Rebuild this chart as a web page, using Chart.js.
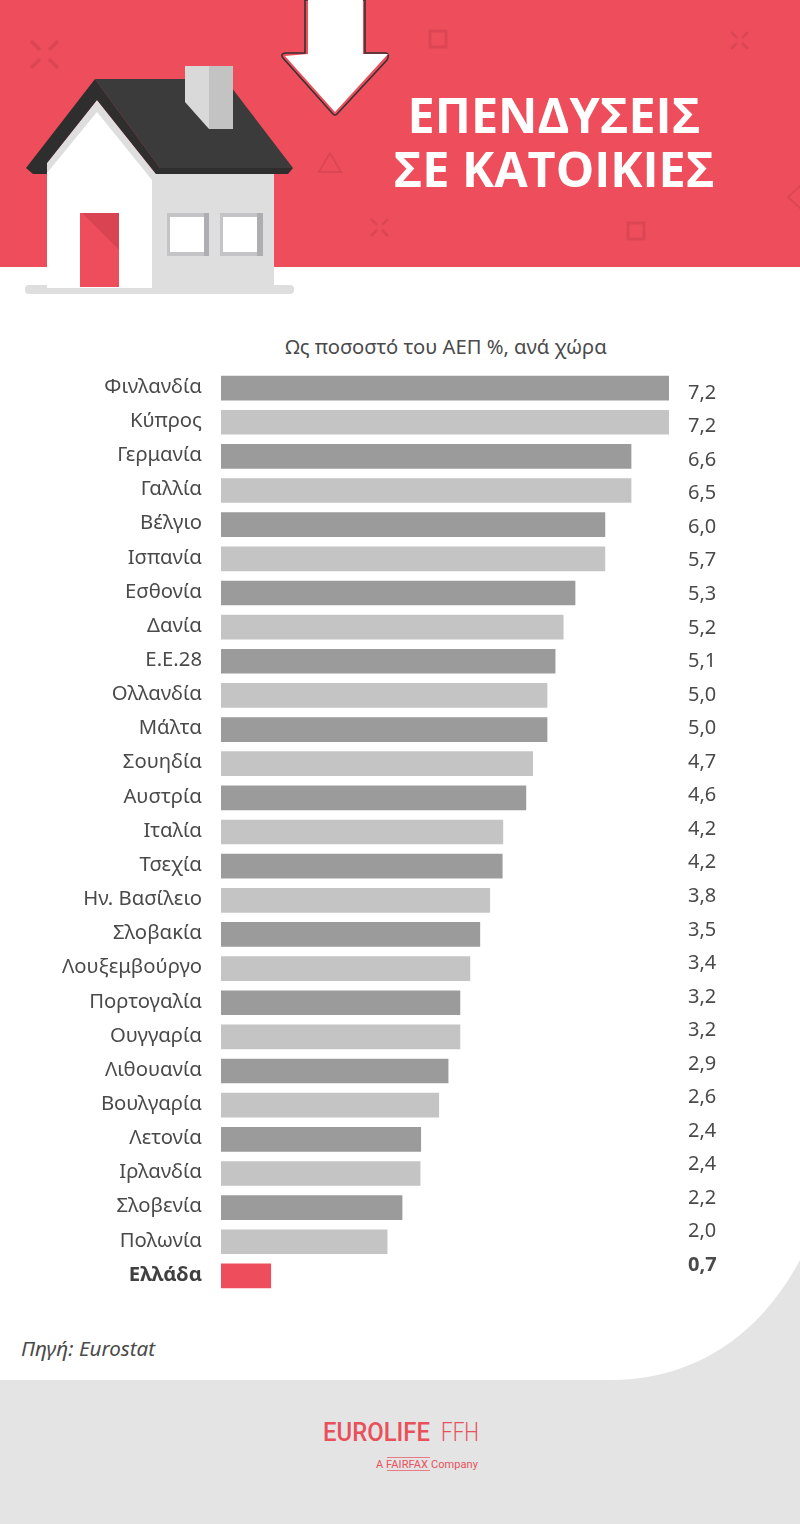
<!DOCTYPE html>
<html lang="el">
<head>
<meta charset="utf-8">
<title>Επενδύσεις σε κατοικίες</title>
<script src="https://cdn.jsdelivr.net/npm/chart.js@4"></script>
<style>
  html, body { margin: 0; padding: 0; background: #fff; }
  #page { position: relative; width: 800px; height: 1524px; overflow: hidden; }
  #art, #chart { position: absolute; left: 0; top: 0; }
  .deco { fill: none; stroke: #dc4654; }
</style>
</head>
<body>
<div id="page">
<svg id="art" width="800" height="1524" viewBox="0 0 800 1524">
  <rect width="800" height="267" fill="#ee4e5b"/>
  <path d="M0,1380 H610 C695,1380 760,1335 800,1260 V1524 H0 Z" fill="#e4e4e4"/>

  <!-- background marks in the header -->
  <g class="deco" stroke-width="3.5">
    <path d="M31,41 L40,50 M58,41 L49,50 M31,68 L40,59 M58,68 L49,59"/>
    <path d="M731,32 L737,38 M748,32 L742,38 M731,49 L737,43 M748,49 L742,43" stroke-width="2.5"/>
    <path d="M371,219 L377,225 M388,219 L382,225 M371,236 L377,230 M388,236 L382,230" stroke-width="2.5"/>
    <rect x="430" y="31" width="16" height="16" stroke-width="3"/>
    <rect x="628" y="223" width="16" height="16" stroke-width="3"/>
    <path d="M319,172 L330,153 L341,172 Z" stroke-width="2"/>
    <path d="M788,197 L800,186 L812,197 L800,208 Z" stroke-width="2"/>
  </g>

  <!-- arrow -->
  <path d="M305,0 V53 H285 Q280,54 283,58 L333,114 Q335,116 337,114 L387,60 Q390,54 386,53 H365 V0 Z" fill="#ee4e5b" stroke="#333" stroke-width="1.6"/>
  <path d="M308,0 H363 V54 H388 L335,112 L285,56 L308,54 Z" fill="#fff"/>

  <!-- house -->
  <rect x="25" y="285" width="269" height="9" rx="4" fill="#dedede"/>
  <rect x="152" y="174" width="122" height="114" fill="#dedede"/>
  <path d="M47,163 L97,100 L156,174 L152,180 V288 H47 Z" fill="#dedede"/>
  <path d="M47,173 L97,112 L152,180 V288 H47 Z" fill="#fff"/>
  <path d="M95,79 H225 L293,168 H160 Z" fill="#3b3b3b"/>
  <path d="M95,79 L26,168 L33,174 H47 V163 L97,100 L156,174 H288 L293,168 H160 Z" fill="#2e2e2e"/>
  <path d="M185,66 H209 V129 L185,102 Z" fill="#d9d9d9"/>
  <rect x="209" y="66" width="24" height="63" fill="#c4c3c4"/>
  <rect x="80" y="213" width="39" height="74" fill="#ee4e5b"/>
  <path d="M82,213 H119 V250 Z" fill="#d94452"/>
  <rect x="167" y="213" width="42" height="43" fill="#c4c4c6"/>
  <rect x="204" y="213" width="5" height="43" fill="#aeaeb2"/>
  <rect x="170" y="217" width="34" height="35" fill="#fff"/>
  <rect x="220" y="213" width="43" height="43" fill="#c4c4c6"/>
  <rect x="257" y="213" width="6" height="43" fill="#aeaeb2"/>
  <rect x="223" y="217" width="34" height="35" fill="#fff"/>

  <!-- title -->
  <g font-family="'Open Sans'" font-weight="700" font-size="48.5" fill="#fff" text-anchor="middle">
    <text x="554" y="133">ΕΠΕΝΔΥΣΕΙΣ</text>
    <text x="554" y="187">ΣΕ ΚΑΤΟΙΚΙΕΣ</text>
  </g>

  <text x="446" y="354" font-family="'Noto Sans'" font-size="20.2" fill="#4a4a4a" text-anchor="middle">Ως ποσοστό του ΑΕΠ %, ανά χώρα</text>
  <text x="21" y="1356" font-family="'Noto Sans'" font-style="italic" font-size="20.6" fill="#4a4a4a">Πηγή: Eurostat</text>

  <!-- logo -->
  <g fill="#e8505c" font-family="Roboto">
    <text x="323" y="1441" font-size="26" font-weight="500" textLength="107" lengthAdjust="spacingAndGlyphs">EUROLIFE</text>
    <text x="441" y="1441" font-size="26" font-weight="300" textLength="38" lengthAdjust="spacingAndGlyphs">FFH</text>
    <text x="376" y="1468" font-size="11" textLength="102">A FAIRFAX Company</text>
    <rect x="387" y="1457" width="43" height="0.7"/>
    <rect x="387" y="1470" width="43" height="0.7"/>
  </g>
</svg>
<canvas id="chart" width="800" height="1524"></canvas>
</div>

<script>
// countries top to bottom
let countries = ['Φινλανδία', 'Κύπρος', 'Γερμανία', 'Γαλλία', 'Βέλγιο', 'Ισπανία', 'Εσθονία', 'Δανία', 'Ε.Ε.28',
    'Ολλανδία', 'Μάλτα', 'Σουηδία', 'Αυστρία', 'Ιταλία', 'Τσεχία', 'Ην. Βασίλειο', 'Σλοβακία', 'Λουξεμβούργο',
    'Πορτογαλία', 'Ουγγαρία', 'Λιθουανία', 'Βουλγαρία', 'Λετονία', 'Ιρλανδία', 'Σλοβενία', 'Πολωνία', 'Ελλάδα']

// bar lengths as drawn in the picture (they do not follow the printed numbers exactly)
let barLengths = [7.2, 7.2, 6.59, 6.59, 6.17, 6.17, 5.69, 5.5, 5.37,
    5.24, 5.24, 5.01, 4.9, 4.53, 4.52, 4.32, 4.16, 4.0,
    3.84, 3.84, 3.65, 3.5, 3.21, 3.2, 2.91, 2.67, 0.8]

// numbers printed at the right
let printedValues = ['7,2', '7,2', '6,6', '6,5', '6,0', '5,7', '5,3', '5,2', '5,1',
    '5,0', '5,0', '4,7', '4,6', '4,2', '4,2', '3,8', '3,5', '3,4',
    '3,2', '3,2', '2,9', '2,6', '2,4', '2,4', '2,2', '2,0', '0,7']

let lastRow = countries.length - 1

function barColor(context) {
    if (context.dataIndex == lastRow) {
        return '#ee4e5b'
    }
    return context.dataIndex % 2 == 0 ? '#9b9b9b' : '#c4c4c4'
}

// printed numbers sit on their own slightly tighter rhythm than the bars
let printedLabels = {
    id: 'printedLabels',
    afterDatasetsDraw(chart) {
        let ctx = chart.ctx
        ctx.save()
        ctx.fillStyle = '#4a4a4a'
        ctx.textAlign = 'left'
        ctx.textBaseline = 'middle'
        printedValues.forEach(function(text, i) {
            ctx.font = (i == lastRow ? '700' : '400') + ' 20px "Noto Sans"'
            ctx.fillText(text, 688, 393 + i * 33.55)
        })
        ctx.restore()
    }
}

new Chart(document.querySelector('#chart'), {
    type: 'bar',
    plugins: [printedLabels],
    data: {
        labels: countries,
        datasets: [{ data: barLengths, backgroundColor: barColor, barThickness: 24, borderWidth: 0 }]
    },
    options: {
        indexAxis: 'y',
        responsive: false,
        animation: false,
        devicePixelRatio: 1,
        layout: { padding: { left: 0, right: 131, top: 371, bottom: 231 } },
        plugins: { legend: { display: false }, tooltip: { enabled: false } },
        scales: {
            x: { min: 0, max: 7.2, display: false },
            y: {
                afterFit(scale) { scale.width = 221 },
                grid: { display: false },
                border: { display: false },
                ticks: {
                    autoSkip: false,
                    padding: 11,
                    labelOffset: -1,
                    color: function(context) {
                        return context.index == lastRow ? '#404040' : '#4a4a4a'
                    },
                    font(context) {
                        return context.index == lastRow
                            ? { family: 'Noto Sans', size: 20.3, weight: '700' }
                            : { family: 'Noto Sans', size: 20.3, weight: '400' }
                    }
                }
            }
        }
    }
})
</script>
</body>
</html>
